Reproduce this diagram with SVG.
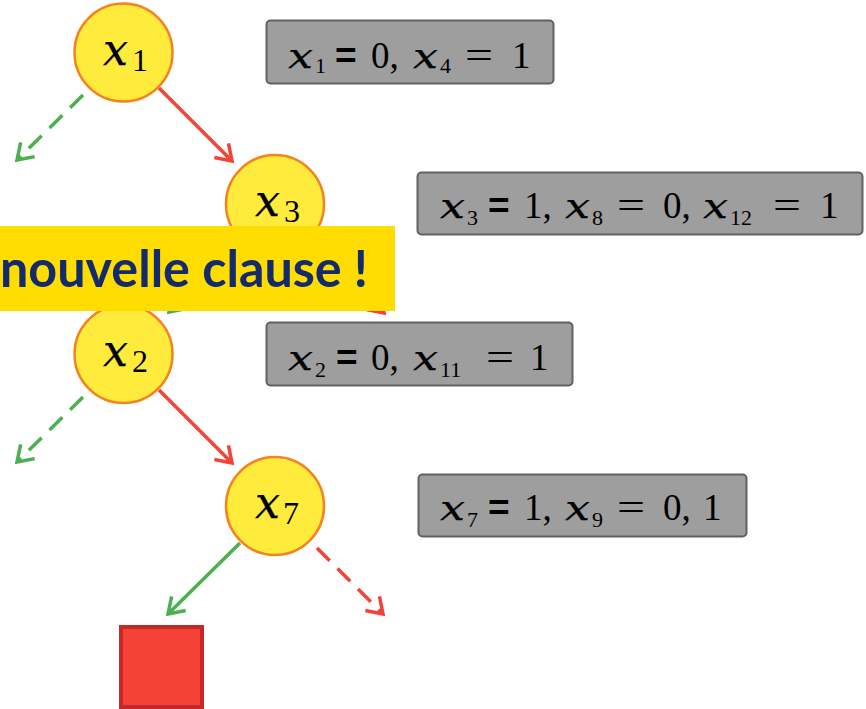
<svg xmlns="http://www.w3.org/2000/svg" width="866" height="709" viewBox="0 0 866 709">
<style>
.node circle{fill:#ffeb3b;stroke:#f5821f;stroke-width:2.5}
.mx{font-family:"DejaVu Serif",serif;font-style:italic;fill:#000;stroke:#000;stroke-width:0.25}
.dg{font-family:"Liberation Serif",serif;fill:#000}
.eqb{font-family:"Liberation Sans",sans-serif;font-weight:bold;fill:#000}
.box rect{fill:#9e9e9e;stroke:#616161;stroke-width:2}
.c{fill:none;stroke-width:3.5}
.g{stroke:#4caf50}
.r{stroke:#f44336}
.d{stroke-dasharray:18 11}
.nl{font-size:44px}
.ns{font-size:32px}
.bl{font-size:36px}
.bd{font-size:37px}
.bs{font-size:22px}
</style>
<defs>
<marker id="ag" markerUnits="userSpaceOnUse" markerWidth="40" markerHeight="40" viewBox="-20 -20 40 40" refX="0" refY="0" orient="auto">
<path d="M-15,-10 L0,0 L-15,10" fill="none" stroke="#4caf50" stroke-width="3.5" stroke-dasharray="none"/>
</marker>
<marker id="ar" markerUnits="userSpaceOnUse" markerWidth="40" markerHeight="40" viewBox="-20 -20 40 40" refX="0" refY="0" orient="auto">
<path d="M-15,-10 L0,0 L-15,10" fill="none" stroke="#f44336" stroke-width="3.5" stroke-dasharray="none"/>
</marker>
</defs>
<rect width="866" height="709" fill="#fff"/>
<g id="connectors">
<line class="c g d" x1="83" y1="95" x2="17" y2="160" marker-end="url(#ag)"/>
<line class="c r" x1="159" y1="88" x2="232" y2="161" marker-end="url(#ar)"/>
<line class="c g d" x1="235" y1="247" x2="169" y2="312" marker-end="url(#ag)"/>
<line class="c r d" x1="310" y1="239" x2="384" y2="313" marker-end="url(#ar)"/>
<line class="c g d" x1="83" y1="397" x2="17" y2="462" marker-end="url(#ag)"/>
<line class="c r" x1="159" y1="390" x2="232" y2="463" marker-end="url(#ar)"/>
<line class="c g" x1="240" y1="543" x2="168" y2="614" marker-end="url(#ag)"/>
<line class="c r d" x1="317" y1="548" x2="383" y2="614" marker-end="url(#ar)"/>
</g>
<g id="node-x1" class="node">
<circle cx="123.5" cy="52.5" r="49"/>
<text class="mx nl" x="103" y="65" textLength="25" lengthAdjust="spacingAndGlyphs">x</text><text class="dg ns" x="132" y="71">1</text>
</g>
<g id="node-x3" class="node">
<circle cx="275" cy="204" r="49"/>
<text class="mx nl" x="255" y="216" textLength="25" lengthAdjust="spacingAndGlyphs">x</text><text class="dg ns" x="284" y="222">3</text>
</g>
<g id="node-x2" class="node">
<circle cx="123.5" cy="354" r="49"/>
<text class="mx nl" x="103" y="366" textLength="25" lengthAdjust="spacingAndGlyphs">x</text><text class="dg ns" x="132" y="372">2</text>
</g>
<g id="node-x7" class="node">
<circle cx="275" cy="506" r="49"/>
<text class="mx nl" x="255" y="518" textLength="25" lengthAdjust="spacingAndGlyphs">x</text><text class="dg ns" x="283" y="524">7</text>
</g>
<g id="conflict">
<rect x="121" y="627" width="81" height="80" fill="#f44336" stroke="#c62828" stroke-width="4"/>
</g>
<g id="box1" class="box">
<rect x="266.5" y="20.5" width="287" height="63" rx="4"/>
<text class="mx bl" x="288" y="68" textLength="25" lengthAdjust="spacingAndGlyphs">x</text><text class="dg bs" x="315" y="73">1</text>
<text class="eqb bd" x="335" y="68">=</text><text class="dg bd" x="371" y="68">0,</text>
<text class="mx bl" x="413" y="68" textLength="25" lengthAdjust="spacingAndGlyphs">x</text><text class="dg bs" x="440" y="73">4</text>
<text class="dg bd" x="465" y="68" textLength="28" lengthAdjust="spacingAndGlyphs">=</text><text class="dg bd" x="512" y="68">1</text>
</g>
<g id="box2" class="box">
<rect x="417.5" y="172.5" width="445" height="62" rx="4"/>
<text class="mx bl" x="440" y="218" textLength="25" lengthAdjust="spacingAndGlyphs">x</text><text class="dg bs" x="467" y="225">3</text>
<text class="eqb bd" x="488" y="218">=</text><text class="dg bd" x="524" y="218">1,</text>
<text class="mx bl" x="565" y="218" textLength="25" lengthAdjust="spacingAndGlyphs">x</text><text class="dg bs" x="592" y="225">8</text>
<text class="dg bd" x="617" y="218" textLength="28" lengthAdjust="spacingAndGlyphs">=</text><text class="dg bd" x="663" y="218">0,</text>
<text class="mx bl" x="703" y="218" textLength="25" lengthAdjust="spacingAndGlyphs">x</text><text class="dg bs" x="730" y="225">12</text>
<text class="dg bd" x="773" y="218" textLength="28" lengthAdjust="spacingAndGlyphs">=</text><text class="dg bd" x="820" y="218">1</text>
</g>
<g id="box3" class="box">
<rect x="266.5" y="322.5" width="306" height="63" rx="4"/>
<text class="mx bl" x="288" y="370" textLength="25" lengthAdjust="spacingAndGlyphs">x</text><text class="dg bs" x="315" y="377">2</text>
<text class="eqb bd" x="336" y="370">=</text><text class="dg bd" x="371" y="370">0,</text>
<text class="mx bl" x="413" y="370" textLength="25" lengthAdjust="spacingAndGlyphs">x</text><text class="dg bs" x="440" y="377">11</text>
<text class="dg bd" x="486" y="370" textLength="28" lengthAdjust="spacingAndGlyphs">=</text><text class="dg bd" x="530" y="370">1</text>
</g>
<g id="box4" class="box">
<rect x="418.5" y="474.5" width="328" height="62" rx="4"/>
<text class="mx bl" x="440" y="520" textLength="25" lengthAdjust="spacingAndGlyphs">x</text><text class="dg bs" x="467" y="527">7</text>
<text class="eqb bd" x="488" y="520">=</text><text class="dg bd" x="524" y="520">1,</text>
<text class="mx bl" x="565" y="520" textLength="25" lengthAdjust="spacingAndGlyphs">x</text><text class="dg bs" x="592" y="527">9</text>
<text class="dg bd" x="617" y="520" textLength="28" lengthAdjust="spacingAndGlyphs">=</text><text class="dg bd" x="663" y="520">0,</text>
<text class="dg bd" x="703" y="520">1</text>
</g>
<g id="banner">
<rect x="0" y="226" width="395" height="85" fill="#ffdd00"/>
<text x="0" y="287" font-family="Lato, sans-serif" font-weight="bold" font-size="52" fill="#142b6b" textLength="368" lengthAdjust="spacingAndGlyphs">nouvelle clause !</text>
</g>
</svg>
